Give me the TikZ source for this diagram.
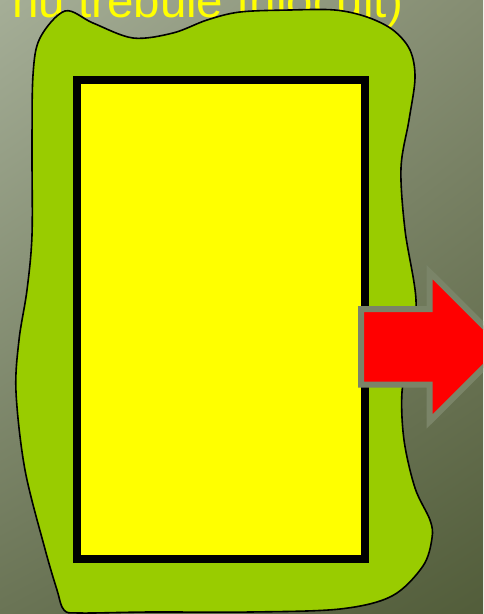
\documentclass[tikz,border=0pt]{standalone}
\usepackage{fontspec}
\setmainfont{Liberation Sans}
\usetikzlibrary{shadings}
\definecolor{bgTL}{HTML}{A5AE97}
\definecolor{bgTR}{HTML}{858D72}
\definecolor{bgBL}{HTML}{6A7455}
\definecolor{bgBR}{HTML}{525D3A}
\definecolor{blobgreen}{HTML}{99CC00}
\definecolor{arrowedge}{HTML}{7A8468}
\definecolor{pureyellow}{HTML}{FFFF00}
\definecolor{purered}{HTML}{FF0000}
\begin{document}
\begin{tikzpicture}[x=1pt,y=-1pt,
  blob/.style={fill=blobgreen,draw=black,line width=1.6pt},
  yellowbox/.style={draw=black,fill=pureyellow,line width=8pt,inner sep=0pt,minimum width=288pt,minimum height=479pt},
  redarrow/.style={fill=purered,draw=arrowedge,line width=6pt,line join=miter},
  titletext/.style={anchor=base west,text=pureyellow,inner sep=0pt,font=\fontsize{47.5}{52}\selectfont}]
\clip (0,0) rectangle (483,614);
\shade[upper left=bgTL, upper right=bgTR, lower left=bgBL, lower right=bgBR] (0,0) rectangle (483,614);
\node[titletext] (title) at (12,17) {nu trebuie înlocuit)};
\draw[blob] plot[smooth cycle, tension=0.55] coordinates {
  (65,11) (93,23) (133,38) (173,33) (207,20) (240,12) (290,10) (335,10) (367,17) (393,30) (410,50) (415,78)
  (409,120) (401,168) (405,230) (416,300) (410,350) (402,392) (404,440) (415,488) (430,520) (432,538)
  (423,566) (392,596) (340,609) (250,612) (150,612) (80,613) (64,610)
  (57,590) (45,549) (25,470) (16,392) (19,340) (27,290) (32,235) (32,150) (33,75) (40,38)};
\node[yellowbox] (box) at (221,319.5) {};
\draw[redarrow] (361,309) -- (429.5,309) -- (429.5,272) -- (504.5,346.75) -- (429.5,421.5) -- (429.5,384.5) -- (361,384.5) -- cycle;
\end{tikzpicture}
\end{document}
